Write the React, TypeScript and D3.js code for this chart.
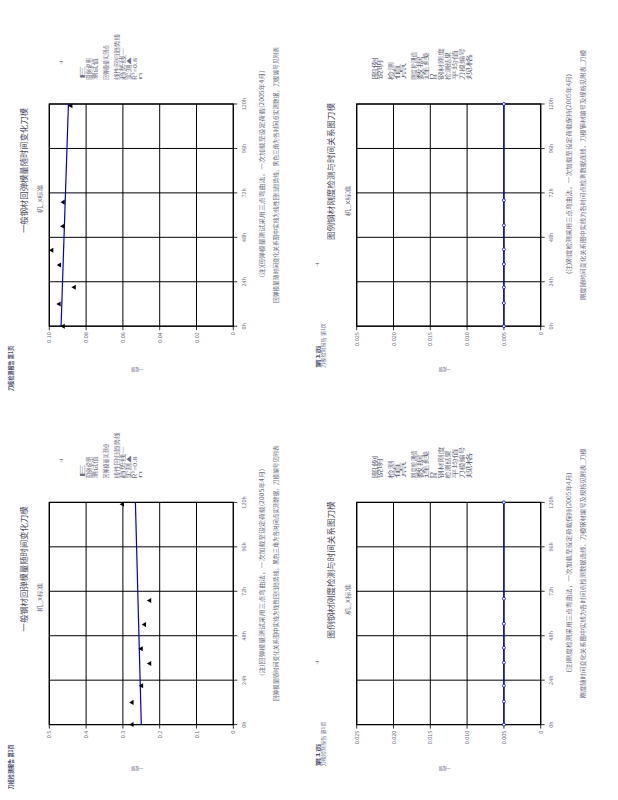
import React from 'react';
import * as d3 from 'd3';

// ---- data ----
// sampling times (h), shared by the panels
const sampleHours = [0, 12, 21, 33, 41, 54, 67, 119];
const sampleHoursFlat = [0, 12.5, 21, 33.5, 41.5, 54.5, 68, 120];
const trendHours = [0, 120];

// upper-left: measured points + regression line
const ulMeasured = [0.0924, 0.0946, 0.0864, 0.0944, 0.0986, 0.0926, 0.0924, 0.0882];
const ulTrend = [0.0936, 0.0896];
// lower-left
const llMeasured = [0.275, 0.275, 0.249, 0.227, 0.25, 0.241, 0.227, 0.301];
const llTrend = [0.25, 0.266];
// right panels: constant series
const urSeries = [0.005, 0.005, 0.005, 0.005, 0.005, 0.005, 0.005, 0.005];
const lrSeries = [0.005, 0.005, 0.005, 0.005, 0.005, 0.005, 0.005, 0.005];

const xTicks = [0, 24, 48, 72, 96, 120];
const xTickLabels = ['0h', '24h', '48h', '72h', '96h', '120h'];
const yTicksUL = [0, 0.02, 0.04, 0.06, 0.08, 0.1];
const yLabelsUL = ['0', '0.02', '0.04', '0.06', '0.08', '0.10'];
const yTicksLL = [0, 0.1, 0.2, 0.3, 0.4, 0.5];
const yLabelsLL = ['0', '0.1', '0.2', '0.3', '0.4', '0.5'];
const yTicksR = [0, 0.005, 0.01, 0.015, 0.02, 0.025];
const yLabelsR = ['0', '0.005', '0.010', '0.015', '0.020', '0.025'];

const titleLeft = '一般钢材回弹模量随时间变化刀模';
const titleRight = '图例钢材刚度检测与时间关系图刀模';
const subtitle = '机_x标准';
const axisName = '一般钢';
const noteLeft1 = '(注)回弹模量测试采用三点弯曲法，一次加载至设定荷载(2005年4月)';
const noteLeft2 = '回弹模量随时间变化关系图中实线为线性回归趋势线，黑色三角为各时间点实测数据，刀模编号见附表';
const noteRight1 = '(注)刚度检测采用三点弯曲法，一次加载至设定荷载保持(2005年4月)';
const noteRight2 = '刚度随时间变化关系图中实线为各时间点检测数据连线，刀模钢材编号及规格见附表_刀模';
const legendLeft = ['E', '图例说明', '测试值', '回弹模量实测点', '线性回归趋势线', '趋势线—', '实测▲', 'R²=0.8', 'n'];
const legendRight = ['图例', '说明', '检测', '值', '点', '刚度检测值', '数据', '连线', 'n', '8', '钢材刚度', '检测结果', '平均值', '刀模编号', '规格'];
const footerText = '刀模检测报告 第1页';

// ---- layout ----
const FONT = '"Noto Sans CJK SC", "Noto Sans", sans-serif';
const TXT = '#6d6d82';
const QW = 307.4;
const QH = 398.4;
const P = { x0: 49.3, x1: 233.3, y0: 104, y1: 326.2 };
const legendLeftPos = [
  [85, 15], [91, 22], [97, 22], [108, 35], [119, 46], [125, 32], [131, 23], [137, 22], [142, 8],
];
const legendRightPos = [
  [69.6, 23], [74.6, 20], [85.6, 18], [91.6, 16], [97.6, 18], [108.6, 28], [114.6, 24], [120.6, 28],
  [125.6, 7], [129.6, 6], [135.6, 32], [142.6, 28], [149.6, 30], [156.6, 32], [163.6, 26],
];

const RText: React.FC<{
  x: number; y: number; anchor?: string; size: number; fill?: string;
  len?: number; weight?: string; rot?: number; children: React.ReactNode;
}> = ({ x, y, anchor = 'start', size, fill = TXT, len, weight, rot = -90, children }) => (
  <text
    transform={`translate(${x},${y}) rotate(${rot})`}
    textAnchor={anchor}
    fontSize={size}
    fill={fill}
    fontFamily={FONT}
    fontWeight={weight}
    textLength={len}
    lengthAdjust={len ? 'spacingAndGlyphs' : undefined}
  >
    {children}
  </text>
);

interface PanelProps {
  dx: number;
  dy: number;
  side: 'left' | 'right';
  yTicks: number[];
  yLabels: string[];
  xs: number[];
  ys: number[];
  trend?: number[];
}

const Panel: React.FC<PanelProps> = ({ dx, dy, side, yTicks, yLabels, xs, ys, trend }) => {
  const x0 = P.x0 + dx, x1 = P.x1 + dx, y0 = P.y0 + dy, y1 = P.y1 + dy;
  // chart is rotated: time runs bottom->top, value runs right->left
  const t = d3.scaleLinear().domain([0, 120]).range([y1, y0]);
  const v = d3.scaleLinear().domain([yTicks[0], yTicks[yTicks.length - 1]]).range([x1, x0]);
  const line = d3.line<[number, number]>().x(d => v(d[1])).y(d => t(d[0]));
  const pts: [number, number][] = xs.map((h, i) => [h, ys[i]]);
  const tri = d3.symbol(d3.symbolTriangle, 11)() || '';
  const isLeft = side === 'left';
  const legend = isLeft ? legendLeft : legendRight;
  const legendPos = isLeft ? legendLeftPos : legendRightPos;

  return (
    <g>
      {/* grid */}
      {xTicks.map(h => (
        <g key={'xt' + h}>
          <line x1={x0} x2={x1} y1={t(h)} y2={t(h)} stroke="#000" strokeWidth={1} />
          <line x1={x1} x2={x1 + 4} y1={t(h)} y2={t(h)} stroke="#000" strokeWidth={0.8} />
        </g>
      ))}
      {yTicks.map(y => (
        <g key={'yt' + y}>
          <line x1={v(y)} x2={v(y)} y1={y0} y2={y1} stroke="#000" strokeWidth={1} />
          <line x1={v(y)} x2={v(y)} y1={y1} y2={y1 + 4} stroke="#000" strokeWidth={0.8} />
        </g>
      ))}
      <rect x={x0} y={y0} width={x1 - x0} height={y1 - y0} fill="none" stroke="#000" strokeWidth={1.2} />

      {/* tick labels */}
      {xTicks.map((h, i) => (
        <RText key={'xl' + h} x={x1 + 12.5} y={t(h)} anchor="middle" size={5.5}>{xTickLabels[i]}</RText>
      ))}
      {yTicks.map((y, i) => (
        <RText key={'yl' + y} x={v(y) + 2} y={y1 + 6} anchor="end" size={5.5}>{yLabels[i]}</RText>
      ))}

      {/* series */}
      {isLeft && trend ? (
        <>
          <path d={line(trendHours.map((h, i) => [h, trend[i]]) as [number, number][]) || ''} fill="none" stroke="#0000cc" strokeWidth={1.2} />
          {pts.map((p, i) => (
            <path key={i} d={tri} transform={`translate(${v(p[1])},${t(p[0])}) rotate(-90)`} fill="#000" />
          ))}
        </>
      ) : (
        <>
          <path d={line(pts) || ''} fill="none" stroke="#0000cc" strokeWidth={1.3} />
          {pts.map((p, i) => (
            <circle key={i} cx={v(p[1])} cy={t(p[0])} r={1.5} fill="#fff" stroke="#0000cc" strokeWidth={0.8} />
          ))}
        </>
      )}

      {/* titles */}
      <RText x={27 + dx} y={170.5 + dy + (isLeft ? 0 : 1)} anchor="middle" size={8.4} fill="#4a4a5e" len={isLeft ? 125 : 137}>
        {isLeft ? titleLeft : titleRight}
      </RText>
      <RText x={42.3 + dx} y={199 + dy + (isLeft ? 0 : 2)} anchor="middle" size={6} len={isLeft ? 29 : 31}>{subtitle}</RText>
      <RText x={(x0 + x1) / 2 - 4} y={y1 + 42} anchor="middle" size={4.5} rot={180} len={12}>{axisName}</RText>

      {/* notes */}
      <RText x={263.5 + dx} y={174 + dy} anchor="middle" size={6} len={isLeft ? 207 : 200}>{isLeft ? noteLeft1 : noteRight1}</RText>
      <RText x={278 + dx} y={175 + dy} anchor="middle" size={6} len={isLeft ? 256 : 250}>{isLeft ? noteLeft2 : noteRight2}</RText>

      {/* legend block */}
      {legend.map((s, i) => (
        <RText key={'lg' + i} x={legendPos[i][0] + dx} y={80 + dy} size={5.5} len={legendPos[i][1]}>{s}</RText>
      ))}

      {/* marks and footer */}
      <RText x={isLeft ? 63 + dx : 12 + dx} y={(isLeft ? 63 : 265) + dy} anchor="middle" size={5} fill="#444">⊣</RText>
      {isLeft ? (
        <RText x={13.4 + dx} y={391 + dy} size={6} fill="#4d5270" weight="bold" len={45}>{footerText}</RText>
      ) : (
        <>
          <RText x={12.8 + dx} y={368 + dy} size={5} fill="#4d5270" weight="bold" len={23}>第1页</RText>
          <RText x={17.8 + dx} y={368 + dy} size={5} fill="#6d7090" len={45}>{footerText}</RText>
        </>
      )}
    </g>
  );
};

export default function App() {
  return (
    <svg width={618} height={800} style={{ position: 'absolute', left: 0, top: 0, background: '#fff' }}>
      <rect width={618} height={800} fill="#fff" />
      <Panel dx={0} dy={0} side="left" yTicks={yTicksUL} yLabels={yLabelsUL} xs={sampleHours} ys={ulMeasured} trend={ulTrend} />
      <Panel dx={0} dy={QH} side="left" yTicks={yTicksLL} yLabels={yLabelsLL} xs={sampleHours} ys={llMeasured} trend={llTrend} />
      <Panel dx={QW} dy={0} side="right" yTicks={yTicksR} yLabels={yLabelsR} xs={sampleHoursFlat} ys={urSeries} />
      <Panel dx={QW} dy={QH} side="right" yTicks={yTicksR} yLabels={yLabelsR} xs={sampleHoursFlat} ys={lrSeries} />
    </svg>
  );
}
